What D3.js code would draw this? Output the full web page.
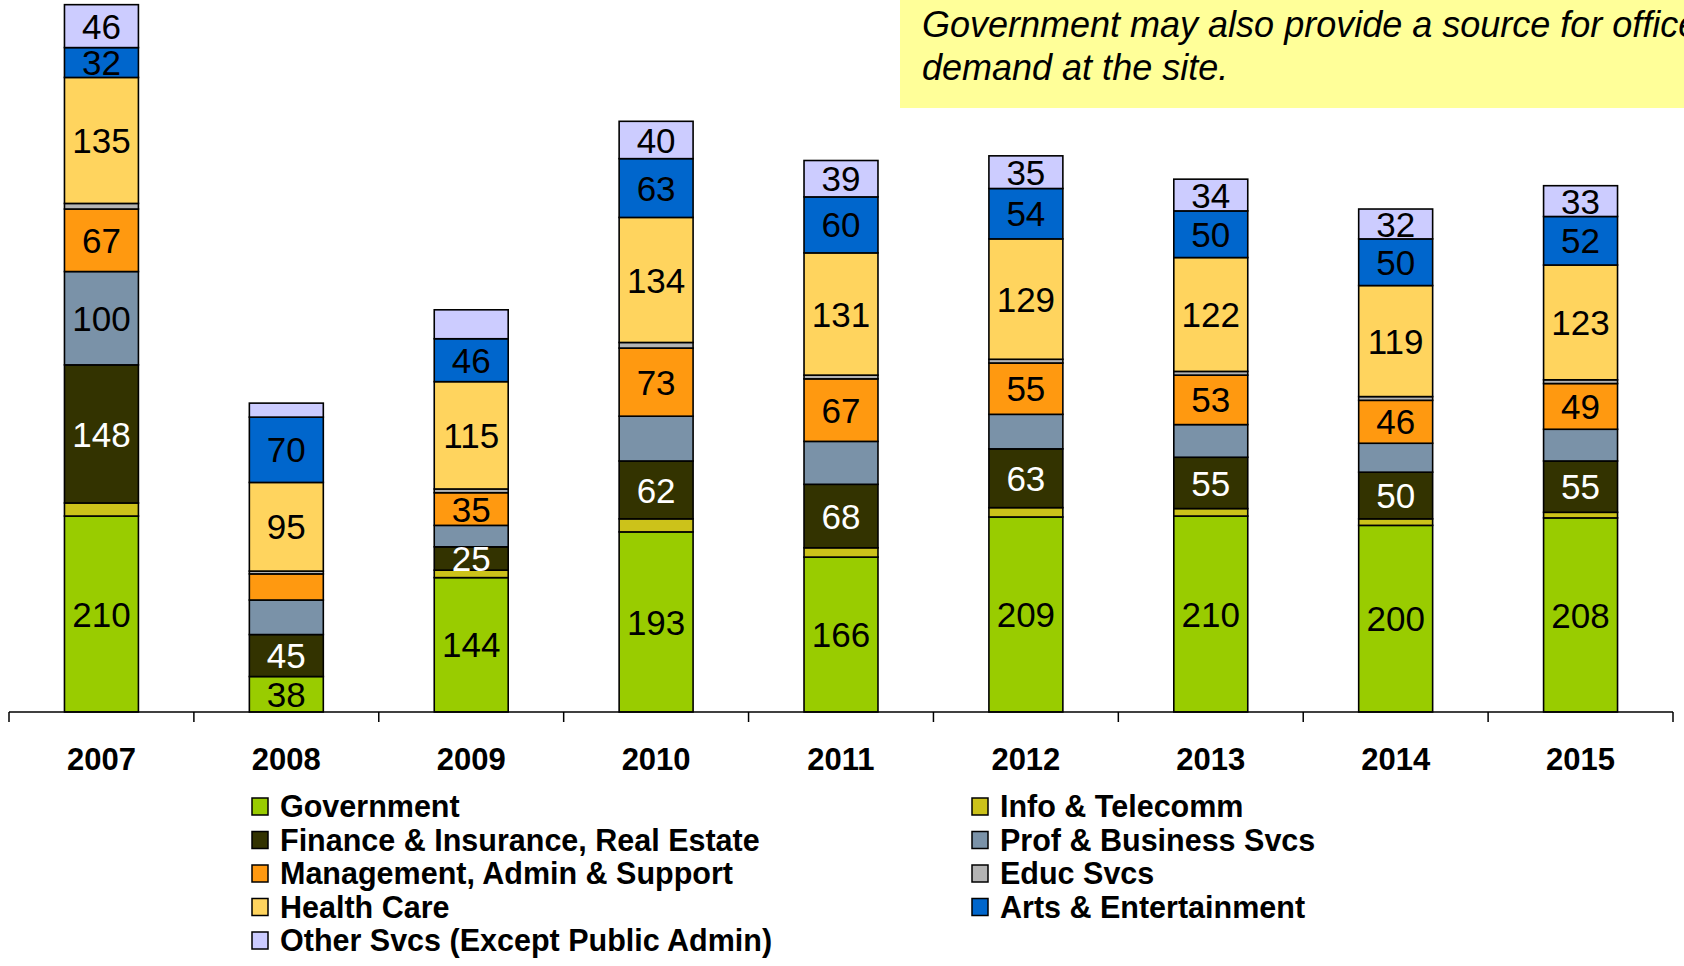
<!DOCTYPE html>
<html>
<head>
<meta charset="utf-8">
<script src="https://cdn.jsdelivr.net/npm/d3@7"></script>
<style>
  html, body { margin: 0; padding: 0; background: #fff; }
  svg { display: block; }
  text { font-family: "Liberation Sans", Arial, sans-serif; }
</style>
</head>
<body>
<svg id="chart" width="1684" height="966"></svg>
<script>
// Employment by sector at the site, 2007–2015 (stacked from the bottom up)
const years = ["2007", "2008", "2009", "2010", "2011", "2012", "2013", "2014", "2015"];

const government   = [210, 38, 144, 193, 166, 209, 210, 200, 208];
const infoTelecomm = [14, 0, 8, 14, 10, 10, 8, 7, 6];
const finance      = [148, 45, 25, 62, 68, 63, 55, 50, 55];
const profBusiness = [100, 37, 23, 48, 46, 37, 35, 31, 34];
const management   = [67, 28, 35, 73, 67, 55, 53, 46, 49];
const educSvcs     = [6, 3, 4, 6, 4, 4, 4, 4, 4];
const healthCare   = [135, 95, 115, 134, 131, 129, 122, 119, 123];
const artsEnt      = [32, 70, 46, 63, 60, 54, 50, 50, 52];
const otherSvcs    = [46, 15, 31, 40, 39, 35, 34, 32, 33];

const seriesNames = [
  "Government", "Info & Telecomm", "Finance & Insurance, Real Estate",
  "Prof & Business Svcs", "Management, Admin & Support", "Educ Svcs",
  "Health Care", "Arts & Entertainment", "Other Svcs (Except Public Admin)"
];
const seriesValues = [government, infoTelecomm, finance, profBusiness, management,
                      educSvcs, healthCare, artsEnt, otherSvcs];

// segments that carry no value label
const unlabelledSeries = ["Info & Telecomm", "Educ Svcs"];
const unlabelledCells = [
  ["Prof & Business Svcs", "2008"], ["Prof & Business Svcs", "2009"],
  ["Prof & Business Svcs", "2010"], ["Prof & Business Svcs", "2011"],
  ["Prof & Business Svcs", "2012"], ["Prof & Business Svcs", "2013"],
  ["Prof & Business Svcs", "2014"], ["Prof & Business Svcs", "2015"],
  ["Management, Admin & Support", "2008"],
  ["Other Svcs (Except Public Admin)", "2008"],
  ["Other Svcs (Except Public Admin)", "2009"]
];

const noteLines = ["Government may also provide a source for office", "demand at the site."];

// styling
const colors = ["#99CC00", "#CCC21A", "#333300", "#7A92A8", "#FF9910",
                "#B4B4B4", "#FFD45E", "#0066CC", "#CCCCFF"];
const labelInk = ["#000", "#000", "#fff", "#000", "#000", "#000", "#000", "#000", "#000"];

const svg = d3.select("#chart");

// build the table for d3.stack
const table = years.map((y, i) => {
  const row = { year: y };
  seriesNames.forEach((n, s) => { row[n] = seriesValues[s][i]; });
  return row;
});
const stacked = d3.stack().keys(seriesNames)(table);

const baseline = 712;
const x = d3.scaleBand().domain(years).range([9, 1673]).padding(0);
const y = d3.scaleLinear().domain([0, 763]).range([baseline, 0]);
const barW = x.bandwidth() * 0.4;

// note box in the top right
svg.append("rect")
  .attr("x", 900).attr("y", 0).attr("width", 784).attr("height", 108)
  .attr("fill", "#FFFF99");
svg.append("g").selectAll("text").data(noteLines).join("text")
  .attr("x", 922).attr("y", (d, i) => 37 + i * 43)
  .attr("font-size", 36).attr("font-style", "italic")
  .attr("fill", "#000")
  .text(d => d);

// bars
const hiddenSet = new Set(unlabelledCells.map(c => c[0] + "|" + c[1]));
const layers = svg.append("g").selectAll("g").data(stacked).join("g")
  .attr("fill", (d, i) => colors[i]);

layers.selectAll("rect").data(d => d).join("rect")
  .attr("x", d => x(d.data.year) + (x.bandwidth() - barW) / 2)
  .attr("y", d => y(d[1]))
  .attr("width", barW)
  .attr("height", d => y(d[0]) - y(d[1]))
  .attr("stroke", "#000")
  .attr("stroke-width", 1.6);

// value labels
stacked.forEach((layer, si) => {
  const name = seriesNames[si];
  if (unlabelledSeries.includes(name)) return;
  svg.append("g").selectAll("text")
    .data(layer.filter(d => !hiddenSet.has(name + "|" + d.data.year)))
    .join("text")
    .attr("x", d => x(d.data.year) + x.bandwidth() / 2)
    .attr("y", d => (y(d[0]) + y(d[1])) / 2)
    .attr("dy", "0.36em")
    .attr("text-anchor", "middle")
    .attr("font-size", 35)
    .attr("fill", labelInk[si])
    .text(d => d.data[name]);
});

// category axis
const axis = svg.append("g").attr("transform", `translate(0,${baseline})`);
axis.append("line")
  .attr("x1", 9).attr("x2", 1673).attr("y1", 0).attr("y2", 0)
  .attr("stroke", "#000").attr("stroke-width", 1.5);
const edges = years.map(yr => x(yr)).concat([x.range()[1]]);
axis.selectAll("line.tick").data(edges).join("line")
  .attr("class", "tick")
  .attr("x1", d => d).attr("x2", d => d).attr("y1", 0).attr("y2", 10)
  .attr("stroke", "#000").attr("stroke-width", 1.5);
axis.selectAll("text").data(years).join("text")
  .attr("x", d => x(d) + x.bandwidth() / 2)
  .attr("y", 58)
  .attr("text-anchor", "middle")
  .attr("font-size", 31).attr("font-weight", "bold")
  .text(d => d);

// legend, two columns filled row by row
const legend = svg.append("g");
const colX = [252, 972];
const items = legend.selectAll("g").data(seriesNames).join("g")
  .attr("transform", (d, i) => `translate(${colX[i % 2]},${817 + Math.floor(i / 2) * 33.5})`);
items.append("rect")
  .attr("x", 0).attr("y", -19).attr("width", 16).attr("height", 17)
  .attr("fill", (d, i) => colors[i])
  .attr("stroke", "#000").attr("stroke-width", 1.5);
items.append("text")
  .attr("x", 28).attr("y", 0)
  .attr("font-size", 30.5).attr("font-weight", "bold")
  .text(d => d);
</script>
</body>
</html>
